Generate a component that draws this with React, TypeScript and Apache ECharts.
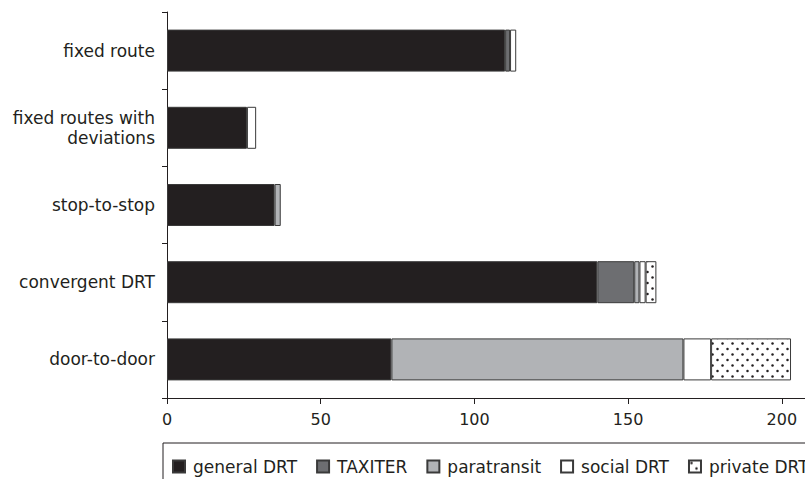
import React, { useEffect, useRef } from "react";
import * as echarts from "echarts";

// Service types (top to bottom) and the number of services of each DRT kind.
const categories = [
  "fixed route",
  "fixed routes with\ndeviations",
  "stop-to-stop",
  "convergent DRT",
  "door-to-door",
];
const seriesNames = ["general DRT", "TAXITER", "paratransit", "social DRT", "private DRT"];
const generalDRT = [110, 26, 35, 140, 73];
const taxiter = [1.6, null, null, 12, null];
const paratransit = [null, null, 2, 1.7, 95];
const socialDRT = [2, 3, null, 2, 9];
const privateDRT = [null, null, null, 3.5, 26];
const xTicks = { min: 0, max: 250, interval: 50 };

const INK = "#231f20";

function dotPattern() {
  const c = document.createElement("canvas");
  c.width = 10;
  c.height = 11;
  const ctx = c.getContext("2d")!;
  ctx.fillStyle = "#ffffff";
  ctx.fillRect(0, 0, 10, 11);
  ctx.fillStyle = "#231f20";
  ctx.beginPath();
  ctx.arc(2.5, 2.5, 1.25, 0, Math.PI * 2);
  ctx.fill();
  ctx.beginPath();
  ctx.arc(7.5, 8, 1.25, 0, Math.PI * 2);
  ctx.fill();
  return {
    image: c.toDataURL(),
    imageWidth: 10,
    imageHeight: 11,
    repeat: "repeat",
  } as any;
}

export default function App() {
  const ref = useRef<HTMLDivElement>(null);

  useEffect(() => {
    if (!ref.current) return;
    const chart = echarts.init(ref.current, null, { renderer: "svg" });
    const fills = ["#231f20", "#6d6e71", "#b1b3b6", "#ffffff", dotPattern()];
    const values = [generalDRT, taxiter, paratransit, socialDRT, privateDRT];

    chart.setOption({
      animation: false,
      textStyle: { fontFamily: "DejaVu Sans", color: INK },
      grid: { left: 167, top: 12, width: 768.5, height: 386 },
      legend: {
        left: 163,
        top: 443,
        orient: "horizontal",
        icon: "rect",
        itemWidth: 12,
        itemHeight: 12,
        itemGap: 19,
        padding: [15, 80, 30, 9],
        borderColor: INK,
        borderWidth: 1,
        textStyle: { fontSize: 17, color: INK, padding: [0, 0, 0, 3] },
        data: seriesNames,
      },
      xAxis: {
        type: "value",
        min: xTicks.min,
        max: xTicks.max,
        interval: xTicks.interval,
        splitLine: { show: false },
        axisLine: { show: true, lineStyle: { color: INK, width: 1 } },
        axisTick: { show: true, length: 6, lineStyle: { color: INK } },
        axisLabel: { fontSize: 16, color: INK, margin: 13, showMaxLabel: false },
      },
      yAxis: {
        type: "category",
        inverse: true,
        data: categories,
        axisLine: { show: true, lineStyle: { color: INK, width: 1 } },
        axisTick: { show: true, length: 5, lineStyle: { color: INK } },
        axisLabel: { fontSize: 17, color: INK, margin: 12, lineHeight: 20 },
      },
      series: seriesNames.map((name, i) => ({
        name,
        type: "bar",
        stack: "total",
        barWidth: 42,
        data: values[i],
        itemStyle: { color: fills[i], borderColor: "#3a3a3a", borderWidth: 1 },
      })),
    });

    return () => chart.dispose();
  }, []);

  return (
    <div
      style={{
        position: "absolute",
        left: 0,
        top: 0,
        width: 805,
        height: 479,
        overflow: "hidden",
        background: "#ffffff",
      }}
    >
      <div ref={ref} style={{ width: 1000, height: 479 }} />
    </div>
  );
}
